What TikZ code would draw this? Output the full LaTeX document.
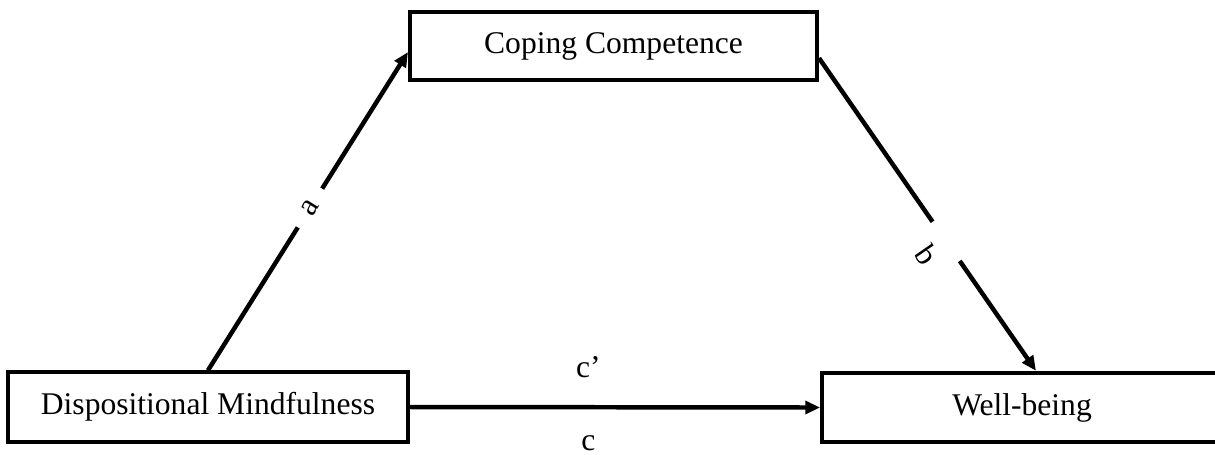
\documentclass[tikz,border=0pt]{standalone}
\usepackage{fontspec}
\setmainfont{Liberation Serif}
\usetikzlibrary{arrows.meta}
\usetikzlibrary{positioning}

\begin{document}
\begin{tikzpicture}[
        x=0.38pt, y=-0.38pt,
        vbox/.style={rectangle, draw=black, line width=1.5pt, minimum width=152pt, minimum height=26.4pt, inner sep=0pt, font=\fontsize{12}{14}\selectfont},
        plbl/.style={fill=white, sloped, inner xsep=6pt, inner ysep=1pt, font=\fontsize{12}{14}\selectfont},
        clbl/.style={anchor=base, inner sep=0pt, font=\fontsize{12}{14}\selectfont},
        ->,>={Triangle[length=5.6pt,width=4.9pt]}, line width=1.7pt
    ]
        \useasboundingbox (0,0) rectangle (1215,454);

        \node[vbox, minimum width=154.7pt, minimum height=25.8pt] (CC) at (613.5,46) {Coping Competence};
        \node[vbox] (DM) at (208,407) {Dispositional Mindfulness};
        \node[vbox] (WB) at (1022,407.5) {Well-being};

        % a and b paths through the mediator
        \draw (DM.north) -- node[plbl, pos=.51] {a} ([yshift=-2.3pt]CC.west);
        \draw ([yshift=-4.6pt]CC.east) -- node[plbl, pos=.586, text height=26pt, text depth=0.2pt] {b} ([xshift=5.3pt]WB.north);

        % direct path
        \draw (DM.east) -- node[clbl, pos=.435, yshift=11.4pt] {c'}
            node[clbl, pos=.435, yshift=-16.6pt] {c} (WB.west);
    \end{tikzpicture}
\end{document}
